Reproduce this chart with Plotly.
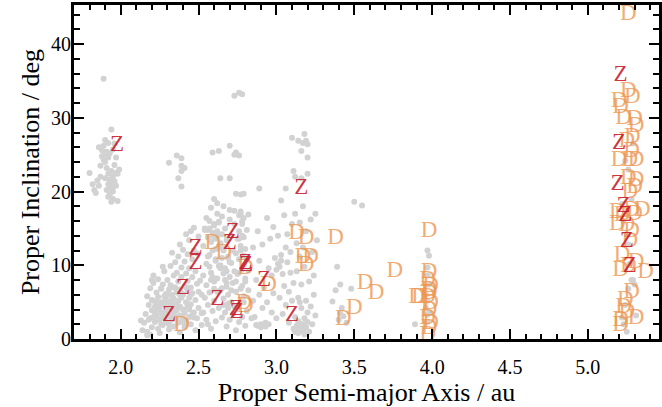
import plotly.graph_objects as go

# ---------------- background asteroids (grey) ----------------
hung_a = [1.80,1.82,1.83,1.84,1.85,1.86,1.87,1.87,1.88,1.88,1.89,1.89,1.90,1.90,1.91,1.91,1.92,1.92,1.93,1.93,1.93,1.94,1.94,1.95,1.95,1.95,1.96,1.96,1.97,1.97,1.92,1.94,1.98,1.98,1.90,1.89,1.94,1.92,1.86,1.95,1.90,1.97,1.96,1.99,1.91,1.93,1.95,1.92]
hung_i = [22.5,21.0,20.2,19.8,21.5,20.8,22.0,23.5,24.8,25.6,24.3,26.2,25.0,24.0,25.4,23.2,24.6,22.4,25.2,21.6,20.4,22.8,21.2,20.0,19.0,22.0,23.6,21.4,20.8,22.5,19.3,18.6,18.7,22.4,21.8,35.3,28.4,26.6,26.0,25.7,27.0,24.6,26.5,23.0,20.2,19.6,20.6,21.0]

high_a = [2.31,2.36,2.39,2.39,2.41,2.39,2.37,2.39,2.59,2.63,2.70,2.74,2.76,2.73,2.73,2.76,2.78,2.64,2.70,2.89,2.74,2.79,
          3.10,3.14,3.17,3.19,3.18,3.20,3.16,3.20,3.11,3.12,3.16,3.20,3.06,3.03,2.58,2.60,2.66,2.70,2.62,2.77,3.50,3.55]
high_i = [23.9,24.9,24.5,23.5,23.2,22.8,21.8,20.7,25.3,25.5,26.2,25.3,24.9,25.0,33.0,33.4,33.2,21.8,21.8,20.4,19.7,19.7,
          27.3,26.9,26.6,26.9,27.8,26.4,25.5,24.6,22.8,22.0,21.8,22.4,20.4,18.8,17.8,19.0,18.0,17.5,18.4,19.6,18.6,18.1]

inner_a = [2.13,2.15,2.17,2.16,2.18,2.17,2.19,2.19,2.20,2.20,2.21,2.21,2.22,2.22,2.23,2.23,2.24,2.24,2.24,2.25,2.25,2.26,2.26,2.26,2.27,2.27,2.28,2.28,2.28,2.29,2.29,2.29,2.30,2.30,2.30,2.31,2.31,2.31,2.32,2.32,2.32,2.33,2.33,2.33,2.34,2.34,2.34,2.34,2.35,2.35,2.35,2.36,2.36,2.36,2.37,2.37,2.37,2.37,2.38,2.38,2.38,2.38,2.39,2.39,2.39,2.40,2.40,2.40,2.40,2.41,2.41,2.41,2.41,2.42,2.42,2.42,2.43,2.43,2.43,2.43,2.44,2.44,2.44,2.44,2.45,2.45,2.45,2.45,2.46,2.46,2.46,2.47,2.47,2.47,2.48,2.48,2.48,2.49,2.49,2.49,2.50,2.50,2.50,2.42,2.38,2.35,2.33,2.27,2.21,2.19,2.25,2.14,2.17,2.22,2.28,2.32,2.36,2.40,2.44,2.20,2.26,2.31,2.35,2.39,2.43,2.47,2.23,2.29,2.34,2.38,2.46,
           2.18,2.21,2.24,2.27,2.30,2.33,2.36,2.39,2.42,2.45,2.20,2.23,2.26,2.29,2.32,2.35,2.38,2.41,2.44,2.25,2.30,2.34,2.37,2.28,2.33]
inner_i = [2.5,2.2,1.0,3.4,4.6,5.8,2.8,6.9,3.9,1.6,5.2,7.6,2.3,4.4,6.3,3.1,5.7,1.4,8.1,4.0,2.6,6.8,5.0,3.5,1.9,7.4,4.6,2.9,9.2,6.1,3.8,5.4,2.2,8.0,4.3,6.7,1.3,3.2,5.0,7.3,9.9,2.6,4.1,6.0,3.5,8.6,5.5,1.7,7.0,2.9,4.7,6.3,9.0,3.9,5.2,2.2,7.8,11.2,4.4,0.9,6.7,3.2,5.6,8.4,9.7,2.7,4.0,6.0,12.1,7.2,3.5,10.5,1.6,5.0,8.9,2.3,6.5,4.3,11.5,7.9,3.0,9.6,5.6,13.4,2.0,7.0,14.6,4.7,10.8,6.2,8.4,3.6,12.0,15.1,5.3,1.2,9.2,7.5,2.8,11.6,4.2,13.9,6.4,14.2,12.8,10.4,11.7,9.8,8.6,0.6,0.8,1.2,0.5,3.6,5.8,4.8,3.0,2.4,4.0,5.3,6.9,2.0,4.5,6.2,4.3,2.9,4.9,5.1,3.7,6.6,3.3,2.6,
           3.0,4.0,3.3,4.2,5.8,4.7,5.9,7.0,6.0,8.0,5.0,2.0,2.4,3.0,3.9,6.0,2.0,4.4,4.6,6.0,7.0,2.3,3.0,5.4,7.9]

mid_a = [2.51,2.52,2.52,2.53,2.53,2.54,2.54,2.55,2.55,2.55,2.56,2.56,2.56,2.57,2.57,2.57,2.58,2.58,2.58,2.59,2.59,2.59,2.60,2.60,2.60,2.61,2.61,2.61,2.62,2.62,2.62,2.63,2.63,2.63,2.64,2.64,2.64,2.65,2.65,2.65,2.66,2.66,2.66,2.67,2.67,2.67,2.68,2.68,2.68,2.69,2.69,2.69,2.70,2.70,2.70,2.71,2.71,2.71,2.72,2.72,2.72,2.73,2.73,2.73,2.74,2.74,2.74,2.75,2.75,2.75,2.76,2.76,2.76,2.76,2.77,2.77,2.77,2.77,2.78,2.78,2.78,2.78,2.79,2.79,2.79,2.79,2.80,2.80,2.80,2.81,2.81,2.81,2.82,2.82,2.82,
         2.56,2.58,2.60,2.62,2.64,2.57,2.61,2.63,2.59,2.55,2.66,2.54,2.76,2.77,2.78,2.79,2.76,2.78,2.77,2.80,2.79,2.53,2.57,2.65,2.69,2.73,2.52,2.60,2.68,
         2.58,2.61,2.64,2.67,2.70,2.56,2.59,2.62,2.65,2.68,2.71,2.74,2.63,2.66,2.69]
mid_i = [1.9,3.5,8.6,12.6,5.6,15.0,10.2,2.6,7.3,13.8,4.6,14.8,11.4,6.3,16.0,9.0,13.2,1.4,3.8,14.4,12.0,7.8,15.4,5.2,10.6,13.6,2.4,17.0,14.6,8.2,4.2,12.4,15.8,6.6,13.0,10.0,2.9,14.2,16.6,8.9,5.5,12.2,3.6,15.0,9.6,7.1,13.4,1.7,4.8,11.0,6.0,16.2,8.4,2.6,14.0,10.3,5.0,12.0,3.4,7.6,17.4,9.2,15.6,1.2,11.6,6.4,13.6,4.2,8.8,16.8,2.3,10.8,14.6,6.8,12.6,17.3,4.9,9.4,15.6,3.0,7.2,11.3,13.8,16.4,5.8,1.8,8.2,12.2,14.8,3.8,10.8,6.6,16.9,9.3,2.0,
         13.2,15.6,14.0,12.9,15.0,12.2,15.9,14.0,16.4,12.0,14.8,13.6,12.0,14.0,10.0,9.0,16.0,17.0,7.8,5.0,3.6,9.8,11.0,11.2,4.4,6.0,6.8,9.2,8.0,
         10.8,9.6,8.0,10.4,11.2,8.4,6.4,6.9,7.6,6.6,7.8,9.9,4.6,4.2,2.8]

outer_a = [2.84,2.85,2.85,2.86,2.87,2.87,2.88,2.88,2.89,2.89,2.90,2.90,2.91,2.91,2.92,2.92,2.93,2.93,2.94,2.94,2.95,2.95,2.96,2.97,2.97,2.98,2.98,2.99,3.00,3.00,3.01,3.01,3.02,3.02,3.03,3.03,3.04,3.04,3.05,3.05,3.06,3.06,3.07,3.07,3.08,3.08,3.09,3.09,3.10,3.10,3.11,3.11,3.12,3.12,3.12,3.13,3.13,3.13,3.14,3.14,3.14,3.15,3.15,3.15,3.16,3.16,3.16,3.17,3.17,3.17,3.18,3.18,3.18,3.19,3.19,3.19,3.20,3.20,3.21,3.21,3.22,3.22,3.23,3.23,3.24,3.24,3.25,3.25,3.26,
           3.15,3.16,3.14,3.18,3.17,3.19,3.13]
outer_i = [5.2,12.4,3.0,1.9,8.0,14.6,1.8,6.0,10.6,2.0,1.6,4.2,12.8,1.9,7.0,2.2,1.7,16.4,5.0,9.6,2.0,13.6,3.6,8.6,15.2,6.2,11.0,2.8,9.4,14.0,10.2,5.6,9.8,11.4,10.6,3.4,8.8,16.8,7.2,12.4,4.6,10.4,14.2,6.4,2.2,9.0,11.8,5.2,15.6,1.4,7.6,3.0,17.0,1.0,13.0,1.8,9.2,5.6,0.8,2.4,15.8,1.4,11.2,4.2,2.0,7.4,18.0,1.1,12.4,2.8,0.6,9.8,5.2,1.6,14.6,3.6,2.3,7.8,1.0,16.2,4.4,11.8,2.0,8.6,6.0,17.0,3.2,13.4,5.0,
           1.9,1.2,1.6,2.0,1.5,0.9,2.6]

far_a = [3.40,3.41,3.38,3.36,3.42,3.43,3.45,3.48,3.39,3.41,
         3.97,3.97,3.98,3.97,3.97,3.98,3.96,3.97,3.96,3.97,3.89,3.98,
         5.25,5.29,5.24,5.26,5.28,5.22,5.23,5.25,5.26,5.28,5.30,5.29,5.26,5.31,5.22,5.24,5.23,5.27]
far_i = [7.4,6.6,5.1,4.2,3.1,2.2,6.8,9.8,3.5,2.3,
         12.0,11.3,9.7,8.6,7.4,6.0,5.2,4.2,3.3,2.0,3.6,1.0,
         26.5,24.2,23.0,19.0,18.3,16.0,14.2,12.8,8.0,7.4,8.0,6.8,3.2,2.9,4.6,2.0,10.2,21.0]

# ---------------- D-types ----------------
d_a = [2.39,2.59,2.66,2.80,2.79,2.80,2.95,3.13,3.19,3.38,3.17,3.22,3.19,3.57,3.64,3.50,3.43,3.76,
       3.98,3.90,3.92,3.98,3.97,3.99,3.98,3.97,3.99,3.98,3.97,3.99,3.98,3.97,3.98,
       5.26,5.26,5.285,5.20,5.21,5.23,5.30,5.31,5.285,5.25,5.28,5.20,5.27,5.31,5.26,5.31,5.30,5.27,
       5.19,5.28,5.35,5.22,5.30,5.19,5.25,5.28,5.27,5.22,5.31,5.21,5.37,5.26,5.28,5.23,5.25,5.21,5.31,5.21,5.24]
d_i = [1.8,13.0,11.6,9.6,4.9,4.5,7.3,14.4,13.6,13.6,11.1,11.1,10.0,7.6,6.2,4.2,2.7,9.2,
       14.6,5.6,5.6,9.1,8.0,7.1,6.2,5.6,4.9,3.9,2.8,2.2,1.5,0.5,6.6,
       44.0,33.6,32.8,32.3,31.4,30.0,29.8,28.9,27.3,26.8,25.5,24.2,24.2,24.2,21.8,21.5,20.6,19.9,
       17.2,17.4,17.4,16.8,16.9,15.5,15.4,14.6,13.2,11.4,10.4,9.3,9.1,9.9,6.4,4.3,3.6,2.6,2.8,1.8,5.2]

# ---------------- Z-types ----------------
z_a = [1.976,3.16,2.72,2.70,2.48,2.48,2.80,2.805,2.92,2.40,2.62,2.74,2.745,2.31,3.10,
       5.21,5.20,5.19,5.23,5.24,5.25,5.27]
z_i = [26.3,20.5,14.5,13.0,12.3,10.3,10.3,10.0,8.0,6.9,5.4,4.1,3.6,3.2,3.2,
       35.8,26.5,21.0,18.0,16.8,13.2,9.9]

bg_a = hung_a + high_a + inner_a + mid_a + outer_a + far_a
bg_i = hung_i + high_i + inner_i + mid_i + outer_i + far_i

SERIF = "Liberation Serif, Times New Roman, serif"

fig = go.Figure()
fig.add_trace(go.Scatter(x=bg_a, y=bg_i, mode="markers",
                         marker=dict(size=6, color="rgb(210,210,210)", line=dict(width=0)),
                         hoverinfo="skip", showlegend=False))
fig.add_trace(go.Scatter(x=d_a, y=d_i, mode="text", text=["D"] * len(d_a),
                         textposition="middle center",
                         textfont=dict(family=SERIF, size=23, color="rgba(238,150,80,0.8)"),
                         showlegend=False))
fig.add_trace(go.Scatter(x=z_a, y=z_i, mode="text", text=["Z"] * len(z_a),
                         textposition="middle center",
                         textfont=dict(family=SERIF, size=23, color="rgba(200,25,40,0.9)"),
                         showlegend=False))

axis_common = dict(showline=True, linecolor="black", linewidth=3, mirror="ticks",
                   ticks="inside", tickcolor="black", tickwidth=2, ticklen=10,
                   showgrid=False, zeroline=False,
                   tickfont=dict(family=SERIF, size=20, color="black"))

fig.update_xaxes(range=[1.7, 5.457], tick0=2.0, dtick=0.5, tickformat=".1f",
                 minor=dict(dtick=0.1, ticks="inside", ticklen=5, tickwidth=2, tickcolor="black"),
                 title=dict(text="Proper Semi-major Axis / au", font=dict(family=SERIF, size=26, color="black"), standoff=6),
                 ticklabelstandoff=8, **axis_common)
fig.update_yaxes(range=[0, 45.3], tick0=0, dtick=10,
                 minor=dict(dtick=2, ticks="inside", ticklen=6, tickwidth=2, tickcolor="black"),
                 title=dict(text="Proper Inclination / deg", font=dict(family=SERIF, size=26, color="black"), standoff=4),
                 ticklabelstandoff=-4, **axis_common)

fig.update_layout(width=662, height=407, margin=dict(l=74, r=0, t=5, b=68),
                  plot_bgcolor="white", paper_bgcolor="white")

fig.write_html("out.html")
